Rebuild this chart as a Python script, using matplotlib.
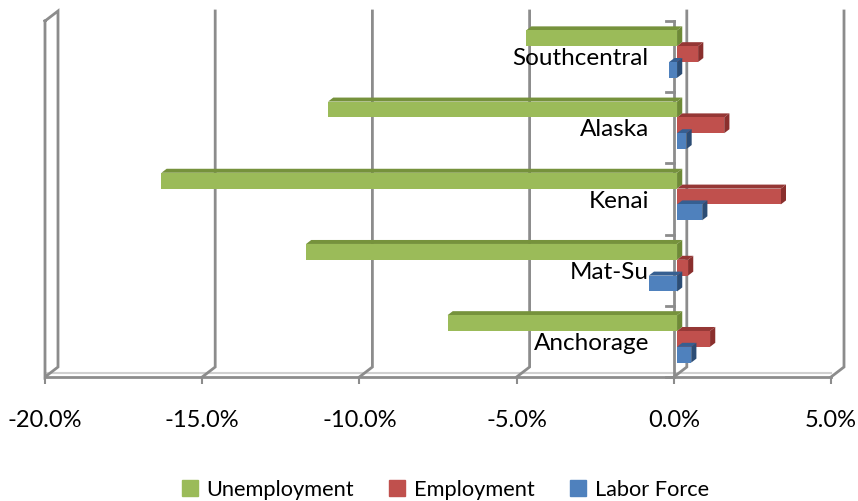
import numpy as np
import matplotlib
matplotlib.use("Agg")
import matplotlib.pyplot as plt
from matplotlib.patches import Polygon, Patch
from matplotlib.ticker import PercentFormatter
from matplotlib.transforms import offset_copy

plt.rcParams['font.family'] = ['Lato', 'DejaVu Sans']
plt.rcParams['axes.unicode_minus'] = False

# data (change, fraction)
regions = ["Anchorage", "Mat-Su", "Kenai", "Alaska", "Southcentral"]
unemployment = [-0.073, -0.118, -0.164, -0.111, -0.048]
employment = [0.0105, 0.0035, 0.033, 0.015, 0.0067]
labor_force = [0.0045, -0.009, 0.008, 0.003, -0.0025]
series_names = ["Unemployment", "Employment", "Labor Force"]
x_ticks = [-0.20, -0.15, -0.10, -0.05, 0.0, 0.05]

# colours: front, top, side
colors = {
    "Unemployment": ("#9BBB59", "#76923C", "#6E8A37"),
    "Employment": ("#C0504D", "#953735", "#8A2F2D"),
    "Labor Force": ("#4F81BD", "#365F91", "#2C4D75"),
}
grid_col = "#8C8C8C"

W, H = 858, 501
fig = plt.figure(figsize=(W / 100, H / 100), dpi=100)
# front plane of the 3d box, in pixels
left, right, top, bottom = 45, 831, 21, 377
ax = fig.add_axes([left / W, (H - bottom) / H, (right - left) / W, (bottom - top) / H])
xmin, xmax = x_ticks[0], x_ticks[-1]
n = len(regions)
ax.set_xlim(xmin, xmax)
ax.set_ylim(-0.5, n - 0.5)
for s in ax.spines.values():
    s.set_visible(False)
ax.patch.set_visible(False)

# depth vector (pixels) expressed in data units
px_x = (xmax - xmin) / (right - left)
px_y = n / (bottom - top)
DX, DY = 13 * px_x, 10 * px_y


def proj(x, y, d):
    return (x + d * DX, y + d * DY)


ylo, yhi = -0.5, n - 0.5
# walls / gridlines
for t in x_ticks:
    pts = [proj(t, ylo, 0), proj(t, ylo, 1), proj(t, yhi, 1)]
    if t == x_ticks[0]:
        pts = [proj(t, yhi, 0), proj(t, ylo, 0), proj(t, ylo, 1),
               proj(t, yhi, 1), proj(t, yhi, 0)]
    xs, ys = zip(*pts)
    ax.plot(xs, ys, color=grid_col, lw=2.0, solid_joinstyle='miter',
            zorder=1, clip_on=False)
# floor front edge
ax.plot([xmin, xmax], [ylo, ylo], color=grid_col, lw=2.0, zorder=1, clip_on=False)
ax.plot([xmin, xmax], [ylo + 4 * px_y, ylo + 4 * px_y], color="#D0D0D0", lw=1.5,
        zorder=0.9, clip_on=False)

# category axis at zero
ax.plot([0, 0], [ylo, yhi], color=grid_col, lw=2.0, zorder=4, clip_on=False)
for b in np.arange(n + 1) - 0.5:
    ax.plot([-8 * px_x, 0], [b, b], color=grid_col, lw=2, zorder=4, clip_on=False)

# bars
bw = 1 / 4.5
d0, d1 = 0.25, 0.65
all_vals = [unemployment, employment, labor_force]
for i in range(n - 1, -1, -1):
    for k, name in enumerate(series_names):
        v = all_vals[k][i]
        c = i + (1 - k) * bw
        yb, yt = c - bw / 2, c + bw / 2
        xl, xr = min(0, v), max(0, v)
        fc, tc, sc = colors[name]
        z = 5 + (n - i) * 3 + k
        front = [proj(xl, yb, d0), proj(xr, yb, d0), proj(xr, yt, d0), proj(xl, yt, d0)]
        topf = [proj(xl, yt, d0), proj(xr, yt, d0), proj(xr, yt, d1), proj(xl, yt, d1)]
        side = [proj(xr, yb, d0), proj(xr, yt, d0), proj(xr, yt, d1), proj(xr, yb, d1)]
        ax.add_patch(Polygon(topf, closed=True, fc=tc, ec='none', zorder=z, clip_on=False))
        ax.add_patch(Polygon(side, closed=True, fc=sc, ec='none', zorder=z, clip_on=False))
        ax.add_patch(Polygon(front, closed=True, fc=fc, ec='none', zorder=z, clip_on=False))

# category labels
lab_tr = offset_copy(ax.transData, fig=fig, x=-25, y=0, units='dots')
for i, r in enumerate(regions):
    ax.text(0, i, r, ha='right', va='center_baseline', fontsize=17.5,
            transform=lab_tr, zorder=50, color='black')

# value axis
ax.set_xticks(x_ticks)
ax.xaxis.set_major_formatter(PercentFormatter(1.0, decimals=1))
ax.tick_params(axis='x', length=5, width=1.5, color=grid_col, pad=19, labelsize=17)
ax.set_yticks([])

handles = [Patch(color=colors[s][0]) for s in series_names]
fig.legend(handles, series_names, loc='center', bbox_to_anchor=(0.519, 0.022),
           ncol=3, frameon=False, fontsize=15.7, handlelength=0.75, handleheight=0.75,
           handletextpad=0.4, columnspacing=1.6)

fig.savefig("out.png", dpi=100)
